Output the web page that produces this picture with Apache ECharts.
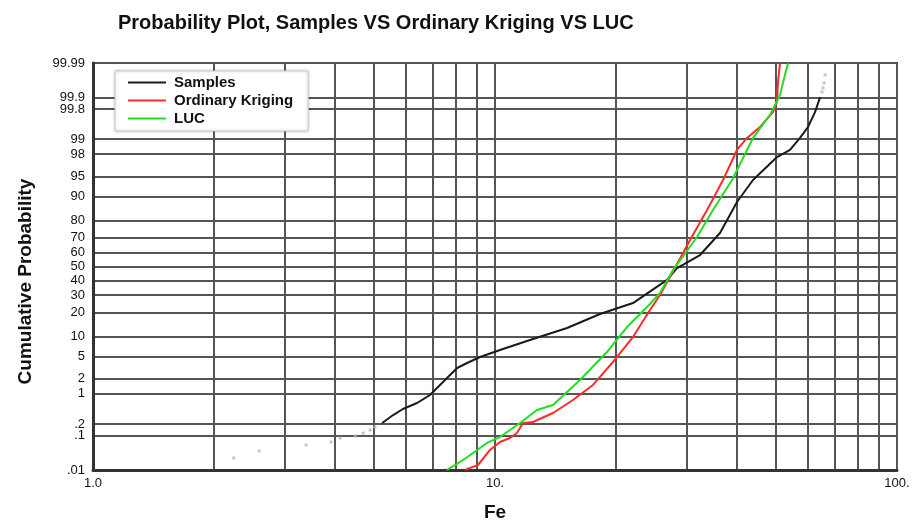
<!DOCTYPE html>
<html>
<head>
<meta charset="utf-8">
<script src="https://cdn.jsdelivr.net/npm/echarts@6/dist/echarts.min.js"></script>
<style>
  html, body { margin: 0; padding: 0; background: #fff; }
  #chart { width: 923px; height: 520px; }
</style>
</head>
<body>
<div id="chart"></div>
<script>
// probability ticks on the y axis (percent) and their labels
const probTicks = [0.01, 0.1, 0.2, 1, 2, 5, 10, 20, 30, 40, 50, 60, 70, 80, 90, 95, 98, 99, 99.8, 99.9, 99.99]
const probLabels = ['.01', '.1', '.2', '1', '2', '5', '10', '20', '30', '40', '50', '60', '70', '80', '90', '95', '98', '99', '99.8', '99.9', '99.99']
// log x axis grid lines and labels
const feTicks = [1, 2, 3, 4, 5, 6, 7, 8, 9, 10, 20, 30, 40, 50, 60, 70, 80, 90, 100]
const feLabelValues = [1, 10, 100]
const feLabels = ['1.0', '10.', '100.']

// [Fe, cumulative %]
const samples = [
    [5.24, 0.212], [5.58, 0.332], [5.90, 0.461], [6.40, 0.63], [6.89, 0.943],
    [7.51, 1.90], [8.05, 3.18], [8.52, 3.89], [9.18, 4.91], [10.29, 6.35],
    [12.43, 9.26], [15.11, 13.05], [18.25, 19.27], [22.04, 25.2], [26.79, 40.3],
    [28.37, 48.9], [32.36, 58.3], [36.28, 72.98], [39.99, 88.07], [43.84, 94.3],
    [50.29, 97.73], [54.18, 98.34], [57.37, 99.06], [60.06, 99.46], [62.52, 99.76],
    [64.35, 99.90]
]
const samplesTails = [
    [2.24, 0.0233], [2.59, 0.0373], [3.39, 0.0553], [3.91, 0.067], [4.12, 0.0862],
    [4.49, 0.0975], [4.70, 0.117], [4.89, 0.140], [5.03, 0.168],
    [65.09, 99.929], [65.46, 99.945], [65.84, 99.960], [66.22, 99.977]
]
const kriging = [
    [8.42, 0.0101], [9.07, 0.0143], [9.72, 0.040], [10.29, 0.067], [10.90, 0.086],
    [11.34, 0.117], [11.74, 0.212], [12.43, 0.224], [13.94, 0.371], [15.63, 0.734],
    [17.53, 1.52], [19.66, 4.05], [22.04, 9.87], [24.30, 21.3], [25.73, 30.1],
    [27.25, 42.4], [30.56, 68.6], [33.69, 84.9], [36.92, 94.3], [39.99, 98.34],
    [42.36, 99.06], [45.63, 99.46], [49.15, 99.76], [50.29, 99.868], [50.58, 99.963],
    [51.16, 99.9899]
]
const luc = [
    [7.60, 0.0101], [8.19, 0.0177], [8.82, 0.0327], [9.55, 0.063], [10.29, 0.0917],
    [10.90, 0.140], [11.54, 0.212], [12.72, 0.436], [13.94, 0.569], [16.27, 1.90],
    [18.99, 5.90], [21.30, 13.44], [23.89, 22.97], [25.73, 31.4], [27.72, 47.4],
    [31.81, 70.5], [34.85, 84.9], [38.88, 94.3], [43.84, 99.06], [48.31, 99.72],
    [51.16, 99.914], [52.65, 99.977], [53.56, 99.9899]
]

// inverse normal cdf (Acklam) - probability axis is drawn in z units
function probit(p) {
    const a = [-3.969683028665376e+01, 2.209460984245205e+02, -2.759285104469687e+02, 1.383577518672690e+02, -3.066479806614716e+01, 2.506628277459239e+00]
    const b = [-5.447609879822406e+01, 1.615858368580409e+02, -1.556989798598866e+02, 6.680131188771972e+01, -1.328068155288572e+01]
    const c = [-7.784894002430293e-03, -3.223964580411365e-01, -2.400758277161838e+00, -2.549671010050085e+00, 4.374664141464968e+00, 2.938163982698783e+00]
    const d = [7.784695709041462e-03, 3.224671290700398e-01, 2.445134137142996e+00, 3.754408661907416e+00]
    const pl = 0.02425
    let q, r
    if (p < pl) {
        q = Math.sqrt(-2 * Math.log(p))
        return (((((c[0] * q + c[1]) * q + c[2]) * q + c[3]) * q + c[4]) * q + c[5]) / ((((d[0] * q + d[1]) * q + d[2]) * q + d[3]) * q + 1)
    }
    if (p <= 1 - pl) {
        q = p - 0.5
        r = q * q
        return (((((a[0] * r + a[1]) * r + a[2]) * r + a[3]) * r + a[4]) * r + a[5]) * q / (((((b[0] * r + b[1]) * r + b[2]) * r + b[3]) * r + b[4]) * r + 1)
    }
    q = Math.sqrt(-2 * Math.log(1 - p))
    return -(((((c[0] * q + c[1]) * q + c[2]) * q + c[3]) * q + c[4]) * q + c[5]) / ((((d[0] * q + d[1]) * q + d[2]) * q + d[3]) * q + 1)
}

const toZ = pts => pts.map(p => [p[0], probit(p[1] / 100)])
const zTicks = probTicks.map(p => probit(p / 100))
const zMin = zTicks[0]
const zMax = zTicks[zTicks.length - 1]

function zLabel(v) {
    let best = 0
    for (let i = 1; i < zTicks.length; i++) {
        if (Math.abs(zTicks[i] - v) < Math.abs(zTicks[best] - v)) best = i
    }
    return probLabels[best]
}

const gridLine = { show: true, lineStyle: { color: '#555', width: 2 } }
const font = 'Liberation Sans, Arial, sans-serif'

const chart = echarts.init(document.getElementById('chart'), null, { renderer: 'canvas' })
chart.setOption({
    animation: false,
    textStyle: { fontFamily: font },
    title: {
        text: 'Probability Plot, Samples VS Ordinary Kriging VS LUC',
        left: 113,
        top: 8,
        textStyle: { fontSize: 20, fontWeight: 'bold', color: '#111', fontFamily: font }
    },
    legend: {
        data: ['Samples', 'Ordinary Kriging', 'LUC'],
        orient: 'vertical',
        left: 115,
        top: 71,
        padding: [4, 15, 5, 13],
        itemGap: 3,
        itemWidth: 38,
        itemHeight: 2,
        icon: 'rect',
        backgroundColor: '#fff',
        borderColor: '#cfcfcf',
        borderWidth: 1,
        shadowColor: 'rgba(0,0,0,0.25)',
        shadowBlur: 3,
        textStyle: { fontSize: 15, fontWeight: 'bold', color: '#111', padding: [0, 0, 0, 3] }
    },
    grid: {
        left: 93,
        right: 26,
        top: 63,
        bottom: 50,
        outerBoundsMode: 'none',
        show: true,
        borderColor: '#333',
        borderWidth: 2
    },
    xAxis: {
        type: 'log',
        logBase: 10,
        min: 1,
        max: 100,
        name: 'Fe',
        nameLocation: 'middle',
        nameGap: 33,
        nameTextStyle: { fontSize: 19, fontWeight: 'bold', color: '#111' },
        axisLine: { show: true, onZero: false, lineStyle: { color: '#333', width: 3 } },
        axisTick: { show: false, customValues: feTicks },
        axisLabel: {
            customValues: feLabelValues,
            margin: 7,
            fontSize: 13,
            color: '#111',
            formatter: v => feLabels[feLabelValues.indexOf(Math.round(v))] || ''
        },
        splitLine: gridLine,
        minorSplitLine: { show: false }
    },
    yAxis: {
        type: 'value',
        min: zMin,
        max: zMax,
        name: 'Cumulative Probability',
        nameLocation: 'middle',
        nameGap: 58,
        nameTextStyle: { fontSize: 19, fontWeight: 'bold', color: '#111', padding: [0, 30, 0, 0] },
        axisLine: { show: true, onZero: false, lineStyle: { color: '#333', width: 3 } },
        axisTick: { show: false, customValues: zTicks },
        axisLabel: {
            customValues: zTicks,
            margin: 8,
            fontSize: 13,
            color: '#111',
            lineHeight: 12,
            formatter: v => zLabel(v)
        },
        splitLine: gridLine
    },
    series: [{
        name: 'Samples',
        type: 'line',
        color: '#1a1a1a',
        showSymbol: false,
        lineStyle: { width: 2 },
        data: toZ(samples)
    }, {
        name: 'Ordinary Kriging',
        type: 'line',
        color: '#ff2a2a',
        showSymbol: false,
        lineStyle: { width: 2 },
        data: toZ(kriging)
    }, {
        name: 'LUC',
        type: 'line',
        color: '#22dd22',
        showSymbol: false,
        lineStyle: { width: 2 },
        data: toZ(luc)
    }, {
        name: 'tails',
        type: 'scatter',
        symbol: 'rect',
        symbolSize: 3,
        itemStyle: { color: '#b8b8b8' },
        data: toZ(samplesTails)
    }]
})
</script>
</body>
</html>
